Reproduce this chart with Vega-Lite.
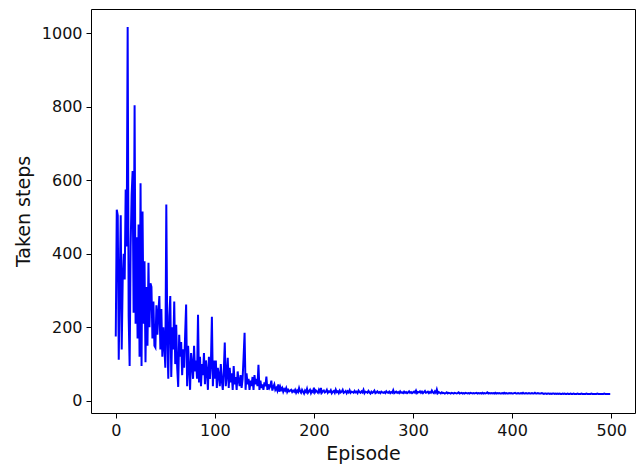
{
"$schema": "https://vega.github.io/schema/vega-lite/v6.json",
"width": 544,
"height": 404,
"autosize": {"type": "none"},
"padding": {"left": 91, "top": 9, "right": 6, "bottom": 58},
"background": "white",
"config": {
"view": {"stroke": "black", "strokeWidth": 1},
"axis": {"domain": false, "grid": false, "tickColor": "black", "tickSize": 5, "tickWidth": 1,
"labelFont": "DejaVu Sans", "labelFontSize": 16, "labelColor": "#111", "labelPadding": 4,
"titleFont": "DejaVu Sans", "titleFontSize": 19, "titleFontWeight": "normal", "titleColor": "#111"}
},
"data": {"values": [
{"e":0,"s":175},{"e":1,"s":520},{"e":2,"s":505},{"e":3,"s":112},{"e":4,"s":320},{"e":5,"s":505},{"e":6,"s":140},{"e":7,"s":330},{"e":8,"s":400},{"e":9,"s":330},
{"e":10,"s":575},{"e":11,"s":420},{"e":12,"s":1017},{"e":13,"s":230},{"e":14,"s":95},{"e":15,"s":420},{"e":16,"s":560},{"e":17,"s":625},{"e":18,"s":240},{"e":19,"s":804},
{"e":20,"s":210},{"e":21,"s":445},{"e":22,"s":170},{"e":23,"s":480},{"e":24,"s":120},{"e":25,"s":592},{"e":26,"s":95},{"e":27,"s":515},{"e":28,"s":210},{"e":29,"s":380},
{"e":30,"s":105},{"e":31,"s":310},{"e":32,"s":150},{"e":33,"s":376},{"e":34,"s":200},{"e":35,"s":320},{"e":36,"s":310},{"e":37,"s":170},{"e":38,"s":270},{"e":39,"s":150},
{"e":40,"s":145},{"e":41,"s":260},{"e":42,"s":180},{"e":43,"s":240},{"e":44,"s":285},{"e":45,"s":140},{"e":46,"s":250},{"e":47,"s":120},{"e":48,"s":200},{"e":49,"s":150},
{"e":50,"s":90},{"e":51,"s":534},{"e":52,"s":170},{"e":53,"s":60},{"e":54,"s":230},{"e":55,"s":285},{"e":56,"s":65},{"e":57,"s":200},{"e":58,"s":140},{"e":59,"s":270},
{"e":60,"s":100},{"e":61,"s":207},{"e":62,"s":90},{"e":63,"s":38},{"e":64,"s":180},{"e":65,"s":120},{"e":66,"s":160},{"e":67,"s":70},{"e":68,"s":140},{"e":69,"s":90},
{"e":70,"s":180},{"e":71,"s":262},{"e":72,"s":40},{"e":73,"s":150},{"e":74,"s":90},{"e":75,"s":30},{"e":76,"s":130},{"e":77,"s":100},{"e":78,"s":60},{"e":79,"s":150},
{"e":80,"s":80},{"e":81,"s":110},{"e":82,"s":60},{"e":83,"s":234},{"e":84,"s":50},{"e":85,"s":120},{"e":86,"s":40},{"e":87,"s":100},{"e":88,"s":70},{"e":89,"s":130},
{"e":90,"s":45},{"e":91,"s":110},{"e":92,"s":80},{"e":93,"s":30},{"e":94,"s":120},{"e":95,"s":60},{"e":96,"s":100},{"e":97,"s":229},{"e":98,"s":40},{"e":99,"s":110},
{"e":100,"s":60},{"e":101,"s":110},{"e":102,"s":35},{"e":103,"s":90},{"e":104,"s":70},{"e":105,"s":40},{"e":106,"s":100},{"e":107,"s":55},{"e":108,"s":30},{"e":109,"s":80},
{"e":110,"s":159},{"e":111,"s":40},{"e":112,"s":70},{"e":113,"s":117},{"e":114,"s":35},{"e":115,"s":90},{"e":116,"s":50},{"e":117,"s":75},{"e":118,"s":30},{"e":119,"s":95},
{"e":120,"s":45},{"e":121,"s":65},{"e":122,"s":30},{"e":123,"s":80},{"e":124,"s":55},{"e":125,"s":40},{"e":126,"s":70},{"e":127,"s":35},{"e":128,"s":60},{"e":129,"s":120},
{"e":130,"s":185},{"e":131,"s":30},{"e":132,"s":75},{"e":133,"s":45},{"e":134,"s":60},{"e":135,"s":30},{"e":136,"s":55},{"e":137,"s":40},{"e":138,"s":65},{"e":139,"s":30},
{"e":140,"s":70},{"e":141,"s":45},{"e":142,"s":60},{"e":143,"s":40},{"e":144,"s":98},{"e":145,"s":30},{"e":146,"s":55},{"e":147,"s":35},{"e":148,"s":45},{"e":149,"s":30},
{"e":150,"s":50},{"e":151,"s":40},{"e":152,"s":66},{"e":153,"s":30},{"e":154,"s":45},{"e":155,"s":35},{"e":156,"s":40},{"e":157,"s":55},{"e":158,"s":28},{"e":159,"s":38},
{"e":160,"s":45},{"e":161,"s":30},{"e":162,"s":35},{"e":163,"s":28},{"e":164,"s":45},{"e":165,"s":25},{"e":166,"s":38},{"e":167,"s":30},{"e":168,"s":35},{"e":169,"s":25},
{"e":170,"s":32},{"e":171,"s":28},{"e":172,"s":35},{"e":173,"s":24},{"e":174,"s":30},{"e":175,"s":26},{"e":176,"s":28},{"e":177,"s":30},{"e":178,"s":24},{"e":179,"s":28},
{"e":180,"s":25},{"e":181,"s":30},{"e":182,"s":22},{"e":183,"s":28},{"e":184,"s":24},{"e":185,"s":35},{"e":186,"s":26},{"e":187,"s":22},{"e":188,"s":30},{"e":189,"s":25},
{"e":190,"s":20},{"e":191,"s":28},{"e":192,"s":24},{"e":193,"s":33},{"e":194,"s":22},{"e":195,"s":26},{"e":196,"s":30},{"e":197,"s":21},{"e":198,"s":27},{"e":199,"s":24},
{"e":200,"s":36},{"e":201,"s":23},{"e":202,"s":28},{"e":203,"s":25},{"e":204,"s":22},{"e":205,"s":30},{"e":206,"s":24},{"e":207,"s":35},{"e":208,"s":22},{"e":209,"s":26},
{"e":210,"s":28},{"e":211,"s":23},{"e":212,"s":25},{"e":213,"s":30},{"e":214,"s":22},{"e":215,"s":26},{"e":216,"s":24},{"e":217,"s":29},{"e":218,"s":21},{"e":219,"s":25},
{"e":220,"s":27},{"e":221,"s":22},{"e":222,"s":31},{"e":223,"s":24},{"e":224,"s":26},{"e":225,"s":21},{"e":226,"s":28},{"e":227,"s":23},{"e":228,"s":25},{"e":229,"s":30},
{"e":230,"s":22},{"e":231,"s":24},{"e":232,"s":27},{"e":233,"s":21},{"e":234,"s":26},{"e":235,"s":23},{"e":236,"s":29},{"e":237,"s":22},{"e":238,"s":25},{"e":239,"s":24},
{"e":240,"s":22},{"e":241,"s":27},{"e":242,"s":23},{"e":243,"s":25},{"e":244,"s":21},{"e":245,"s":28},{"e":246,"s":24},{"e":247,"s":22},{"e":248,"s":26},{"e":249,"s":23},
{"e":250,"s":30},{"e":251,"s":21},{"e":252,"s":25},{"e":253,"s":24},{"e":254,"s":22},{"e":255,"s":27},{"e":256,"s":23},{"e":257,"s":20},{"e":258,"s":25},{"e":259,"s":22},
{"e":260,"s":24},{"e":261,"s":28},{"e":262,"s":21},{"e":263,"s":23},{"e":264,"s":26},{"e":265,"s":22},{"e":266,"s":24},{"e":267,"s":21},{"e":268,"s":25},{"e":269,"s":23},
{"e":270,"s":22},{"e":271,"s":24},{"e":272,"s":21},{"e":273,"s":26},{"e":274,"s":23},{"e":275,"s":22},{"e":276,"s":25},{"e":277,"s":21},{"e":278,"s":24},{"e":279,"s":22},
{"e":280,"s":29},{"e":281,"s":21},{"e":282,"s":23},{"e":283,"s":25},{"e":284,"s":22},{"e":285,"s":24},{"e":286,"s":21},{"e":287,"s":26},{"e":288,"s":22},{"e":289,"s":23},
{"e":290,"s":21},{"e":291,"s":25},{"e":292,"s":22},{"e":293,"s":24},{"e":294,"s":21},{"e":295,"s":23},{"e":296,"s":26},{"e":297,"s":22},{"e":298,"s":24},{"e":299,"s":21},
{"e":300,"s":23},{"e":301,"s":25},{"e":302,"s":22},{"e":303,"s":28},{"e":304,"s":21},{"e":305,"s":24},{"e":306,"s":23},{"e":307,"s":26},{"e":308,"s":22},{"e":309,"s":25},
{"e":310,"s":21},{"e":311,"s":24},{"e":312,"s":27},{"e":313,"s":22},{"e":314,"s":23},{"e":315,"s":25},{"e":316,"s":21},{"e":317,"s":24},{"e":318,"s":22},{"e":319,"s":28},
{"e":320,"s":23},{"e":321,"s":21},{"e":322,"s":26},{"e":323,"s":22},{"e":324,"s":31},{"e":325,"s":21},{"e":326,"s":24},{"e":327,"s":22},{"e":328,"s":20},{"e":329,"s":23},
{"e":330,"s":21},{"e":331,"s":22},{"e":332,"s":20},{"e":333,"s":21},{"e":334,"s":23},{"e":335,"s":20},{"e":336,"s":22},{"e":337,"s":21},{"e":338,"s":20},{"e":339,"s":22},
{"e":340,"s":21},{"e":341,"s":20},{"e":342,"s":22},{"e":343,"s":21},{"e":344,"s":20},{"e":345,"s":21},{"e":346,"s":23},{"e":347,"s":20},{"e":348,"s":21},{"e":349,"s":22},
{"e":350,"s":20},{"e":351,"s":21},{"e":352,"s":20},{"e":353,"s":22},{"e":354,"s":21},{"e":355,"s":20},{"e":356,"s":21},{"e":357,"s":20},{"e":358,"s":22},{"e":359,"s":21},
{"e":360,"s":20},{"e":361,"s":21},{"e":362,"s":20},{"e":363,"s":21},{"e":364,"s":22},{"e":365,"s":20},{"e":366,"s":21},{"e":367,"s":20},{"e":368,"s":21},{"e":369,"s":20},
{"e":370,"s":22},{"e":371,"s":20},{"e":372,"s":21},{"e":373,"s":20},{"e":374,"s":21},{"e":375,"s":23},{"e":376,"s":20},{"e":377,"s":21},{"e":378,"s":20},{"e":379,"s":21},
{"e":380,"s":20},{"e":381,"s":21},{"e":382,"s":20},{"e":383,"s":22},{"e":384,"s":20},{"e":385,"s":21},{"e":386,"s":20},{"e":387,"s":21},{"e":388,"s":20},{"e":389,"s":20},
{"e":390,"s":21},{"e":391,"s":20},{"e":392,"s":22},{"e":393,"s":20},{"e":394,"s":21},{"e":395,"s":20},{"e":396,"s":20},{"e":397,"s":21},{"e":398,"s":20},{"e":399,"s":21},
{"e":400,"s":20},{"e":401,"s":20},{"e":402,"s":21},{"e":403,"s":22},{"e":404,"s":20},{"e":405,"s":20},{"e":406,"s":21},{"e":407,"s":20},{"e":408,"s":20},{"e":409,"s":21},
{"e":410,"s":20},{"e":411,"s":22},{"e":412,"s":20},{"e":413,"s":20},{"e":414,"s":21},{"e":415,"s":20},{"e":416,"s":20},{"e":417,"s":21},{"e":418,"s":20},{"e":419,"s":20},
{"e":420,"s":21},{"e":421,"s":20},{"e":422,"s":20},{"e":423,"s":22},{"e":424,"s":20},{"e":425,"s":20},{"e":426,"s":21},{"e":427,"s":20},{"e":428,"s":20},{"e":429,"s":20},
{"e":430,"s":21},{"e":431,"s":20},{"e":432,"s":19},{"e":433,"s":20},{"e":434,"s":20},{"e":435,"s":19},{"e":436,"s":20},{"e":437,"s":20},{"e":438,"s":19},{"e":439,"s":20},
{"e":440,"s":19},{"e":441,"s":20},{"e":442,"s":20},{"e":443,"s":19},{"e":444,"s":20},{"e":445,"s":19},{"e":446,"s":20},{"e":447,"s":19},{"e":448,"s":20},{"e":449,"s":19},
{"e":450,"s":19},{"e":451,"s":20},{"e":452,"s":19},{"e":453,"s":20},{"e":454,"s":19},{"e":455,"s":19},{"e":456,"s":20},{"e":457,"s":19},{"e":458,"s":19},{"e":459,"s":20},
{"e":460,"s":19},{"e":461,"s":19},{"e":462,"s":20},{"e":463,"s":19},{"e":464,"s":19},{"e":465,"s":19},{"e":466,"s":20},{"e":467,"s":19},{"e":468,"s":19},{"e":469,"s":19},
{"e":470,"s":20},{"e":471,"s":19},{"e":472,"s":19},{"e":473,"s":19},{"e":474,"s":19},{"e":475,"s":20},{"e":476,"s":19},{"e":477,"s":19},{"e":478,"s":19},{"e":479,"s":19},
{"e":480,"s":20},{"e":481,"s":19},{"e":482,"s":19},{"e":483,"s":19},{"e":484,"s":19},{"e":485,"s":19},{"e":486,"s":20},{"e":487,"s":19},{"e":488,"s":19},{"e":489,"s":19},
{"e":490,"s":19},{"e":491,"s":19},{"e":492,"s":19},{"e":493,"s":20},{"e":494,"s":19},{"e":495,"s":19},{"e":496,"s":19},{"e":497,"s":19},{"e":498,"s":19},{"e":499,"s":19}
]},
"mark": {"type": "line", "color": "#0000ff", "strokeWidth": 2, "clip": true},
"encoding": {
"x": {"field": "e", "type": "quantitative", "scale": {"domain": [-25, 524], "nice": false, "zero": false},
"axis": {"values": [0,100,200,300,400,500], "format": "d", "title": "Episode", "titlePadding": 6}},
"y": {"field": "s", "type": "quantitative", "scale": {"domain": [-33, 1066], "nice": false, "zero": false},
"axis": {"values": [0,200,400,600,800,1000], "format": "d", "title": "Taken steps", "titlePadding": 8}}
}
}
